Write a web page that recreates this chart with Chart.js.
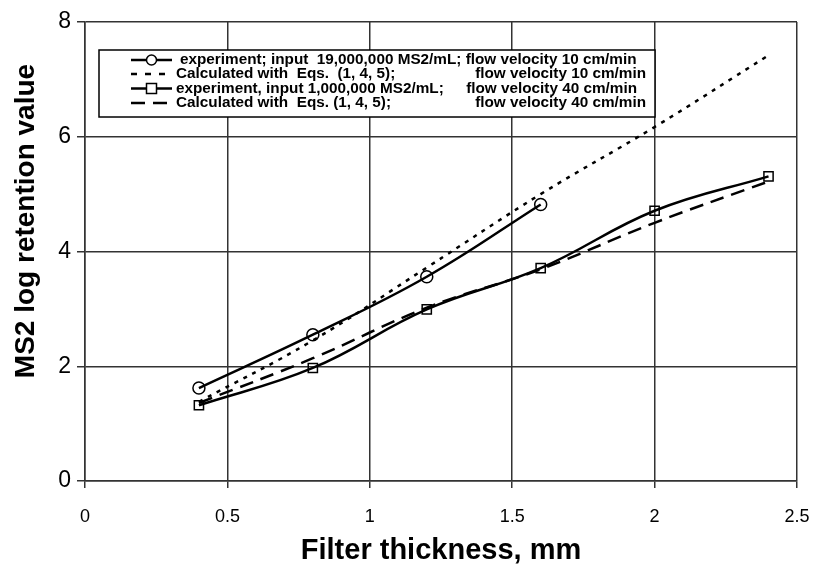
<!DOCTYPE html>
<html>
<head>
<meta charset="utf-8">
<script src="https://cdn.jsdelivr.net/npm/chart.js@4.4.1/dist/chart.umd.min.js"></script>
<style>
  html, body { margin: 0; padding: 0; background: #fff; }
</style>
</head>
<body>
<canvas id="lineChart" width="814" height="564"></canvas>
<script>
// filter thickness, mm
const thickness = [0.4, 0.8, 1.2, 1.6, 2.0, 2.4];
// MS2 log retention values
const exp10 = [1.62, 2.55, 3.56, 4.82];
const calc10 = [1.38, 2.45, 3.72, 5.0, 6.17, 7.42];
const exp40 = [1.32, 1.97, 2.99, 3.71, 4.71, 5.31];
const calc40 = [1.36, 2.14, 3.02, 3.69, 4.5, 5.22];

const xTickLabels = ['0', '0.5', '1', '1.5', '2', '2.5'];
const yTickLabels = ['0', '2', '4', '6', '8'];
const yTitle = 'MS2 log retention value';
const xTitle = 'Filter thickness, mm';

const legendRows = [
  ['experiment; input  19,000,000 MS2/mL; flow velocity 10 cm/min', ''],
  ['Calculated with  Eqs.  (1, 4, 5);', 'flow velocity 10 cm/min'],
  ['experiment, input 1,000,000 MS2/mL;', 'flow velocity 40 cm/min'],
  ['Calculated with  Eqs. (1, 4, 5);', 'flow velocity 40 cm/min']
];

const pts = (ys) => ys.map((y, i) => ({ x: thickness[i], y: y }));
const FONT = '"Liberation Sans", Arial, sans-serif';

// legend box drawn inside the plot, like the original
const boxLegend = {
  id: 'boxLegend',
  afterDatasetsDraw(chart) {
    const c = chart.ctx;
    const a = chart.chartArea;
    const L = a.left + 14, T = a.top + 28, W = 556, H = 67;
    c.save();
    c.fillStyle = '#fff';
    c.fillRect(L, T, W, H);
    c.strokeStyle = '#000';
    c.lineWidth = 1.5;
    c.strokeRect(L, T, W, H);

    const rowY = [T + 10, T + 24, T + 38.5, T + 53];
    const sx0 = L + 32, sx1 = L + 73;
    c.lineWidth = 2.5;
    chart.data.datasets.forEach((ds, i) => {
      const y = rowY[i];
      c.setLineDash(i === 1 ? [6, 8] : (ds.borderDash || []));
      c.beginPath();
      c.moveTo(sx0, y);
      c.lineTo(sx1, y);
      c.stroke();
      c.setLineDash([]);
      if (ds.pointStyle === 'circle') {
        c.lineWidth = 1.5;
        c.fillStyle = '#fff';
        c.beginPath();
        c.arc((sx0 + sx1) / 2, y, 5, 0, Math.PI * 2);
        c.fill();
        c.stroke();
        c.lineWidth = 2.5;
      } else if (ds.pointStyle === 'rect') {
        c.lineWidth = 1.5;
        c.fillStyle = '#fff';
        c.fillRect((sx0 + sx1) / 2 - 5, y - 5, 10, 10);
        c.strokeRect((sx0 + sx1) / 2 - 5, y - 5, 10, 10);
        c.lineWidth = 2.5;
      }
    });

    c.fillStyle = '#000';
    c.font = 'bold 15.3px ' + FONT;
    c.textBaseline = 'middle';
    legendRows.forEach((r, i) => {
      c.textAlign = 'left';
      c.fillText(r[0], L + (i === 0 ? 81 : 77), rowY[i]);
      if (r[1]) {
        c.textAlign = 'right';
        c.fillText(r[1], L + (i === 2 ? 538 : 547), rowY[i]);
      }
    });
    c.restore();
  }
};

// y title sits a bit above the middle of the axis in the original
const sideTitle = {
  id: 'sideTitle',
  afterDraw(chart) {
    const c = chart.ctx;
    c.save();
    c.translate(26, 221);
    c.rotate(-Math.PI / 2);
    c.fillStyle = '#000';
    c.font = 'bold 28px ' + FONT;
    c.textAlign = 'center';
    c.textBaseline = 'middle';
    c.fillText(yTitle, 0, 0);
    c.restore();
  }
};

const ctx = document.getElementById('lineChart').getContext('2d');

new Chart(ctx, {
  type: 'line',
  data: {
    datasets: [{
      label: 'experiment; input 19,000,000 MS2/mL; flow velocity 10 cm/min',
      data: pts(exp10),
      borderColor: '#000',
      borderWidth: 2.5,
      pointStyle: 'circle',
      pointRadius: 6,
      pointBorderWidth: 1.5,
      pointBorderColor: '#000',
      pointBackgroundColor: 'rgba(255,255,255,0)',
      tension: 0.4
    }, {
      label: 'Calculated with Eqs. (1, 4, 5); flow velocity 10 cm/min',
      data: pts(calc10),
      borderColor: '#000',
      borderWidth: 2.5,
      borderDash: [4, 6],
      pointRadius: 0,
      tension: 0.4
    }, {
      label: 'experiment, input 1,000,000 MS2/mL; flow velocity 40 cm/min',
      data: pts(exp40),
      borderColor: '#000',
      borderWidth: 2.5,
      pointStyle: 'rect',
      pointRadius: 6.5,
      pointBorderWidth: 1.5,
      pointBorderColor: '#000',
      pointBackgroundColor: 'rgba(255,255,255,0)',
      tension: 0.4
    }, {
      label: 'Calculated with Eqs. (1, 4, 5); flow velocity 40 cm/min',
      data: pts(calc40),
      borderColor: '#000',
      borderWidth: 2.5,
      borderDash: [14, 8],
      pointRadius: 0,
      tension: 0.4
    }]
  },
  options: {
    responsive: false,
    animation: false,
    layout: { padding: { left: 0, top: 22, right: 17, bottom: 0 } },
    plugins: {
      legend: { display: false },
      tooltip: { enabled: false }
    },
    scales: {
      x: {
        type: 'linear',
        min: 0,
        max: 2.5,
        afterFit: (s) => { s.height = 83; s.paddingLeft = 0; s.paddingRight = 0; },
        ticks: {
          stepSize: 0.5,
          color: '#000',
          padding: 18,
          font: { family: FONT, size: 18 },
          callback: (v, i) => xTickLabels[i]
        },
        grid: { color: '#333', lineWidth: 1.5, tickLength: 7 },
        border: { color: '#333', width: 1.5 },
        title: {
          display: true,
          text: xTitle,
          color: '#000',
          font: { family: FONT, size: 29, weight: 'bold' },
          padding: { top: 4, bottom: -4 }
        }
      },
      y: {
        min: 0,
        max: 8,
        afterFit: (s) => { s.width = 85; },
        ticks: {
          stepSize: 2,
          color: '#000',
          padding: 6,
          font: { family: FONT, size: 23 },
          callback: (v, i) => yTickLabels[i]
        },
        grid: { color: '#333', lineWidth: 1.5, tickLength: 8 },
        border: { color: '#333', width: 1.5 }
      }
    }
  },
  plugins: [boxLegend, sideTitle]
});
</script>
</body>
</html>
